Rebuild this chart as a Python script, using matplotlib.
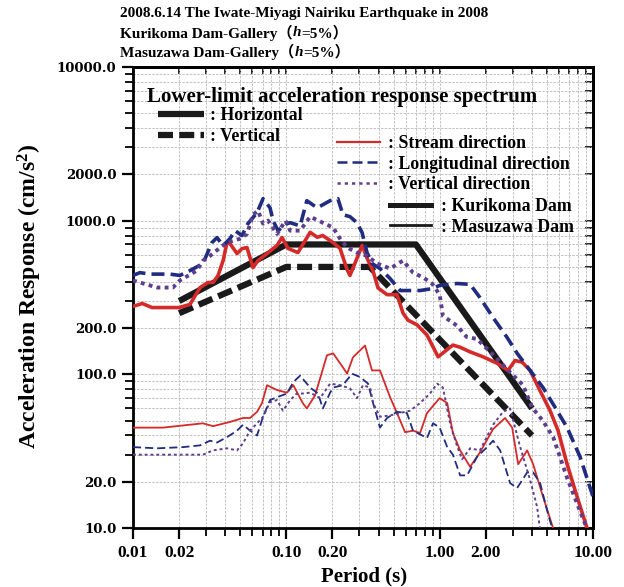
import numpy as np
import matplotlib
matplotlib.use("Agg")
import matplotlib.pyplot as plt
from matplotlib.lines import Line2D
from matplotlib.ticker import FixedLocator, LogLocator, NullFormatter, FuncFormatter

# ---------------- data ----------------
# Lower-limit acceleration response spectrum
lim_h_T = [0.02, 0.1, 0.7, 4.0]
lim_h_V = [300, 700, 700, 60]
lim_v_T = [0.02, 0.1, 0.35, 4.0]
lim_v_V = [250, 500, 500, 40]

# Kurikoma Dam (thick lines)
kur_st_T = [0.01, 0.0115, 0.0133, 0.02, 0.0235, 0.0274, 0.0308, 0.0333, 0.0359, 0.0387, 0.041,
            0.0429, 0.0477, 0.0514, 0.0554, 0.0606, 0.0654, 0.0748, 0.0869, 0.0938, 0.1026, 0.119,
            0.143, 0.159, 0.173, 0.202, 0.224, 0.249, 0.26, 0.289, 0.312, 0.336, 0.368, 0.396,
            0.454, 0.527, 0.577, 0.622, 0.712, 0.827, 0.977, 1.12, 1.22, 1.36, 1.58, 1.92, 2.37,
            2.79, 3.10, 3.45, 3.89, 4.52, 5.25, 5.92, 6.78, 7.87, 9.14]
kur_st_V = [277, 289, 272, 272, 285, 367, 396, 396, 440, 550, 719,
            709, 611, 658, 668, 495, 550, 611, 690, 776, 660, 620,
            840, 780, 800, 720, 660, 480, 440, 570, 690, 570, 470, 365,
            330, 330, 250, 225, 210, 180, 130, 145, 155, 150, 140, 130, 118,
            106, 123, 120, 106, 78, 58, 43, 26, 16, 10]

kur_lo_T = [0.01, 0.0111, 0.0129, 0.0174, 0.0202, 0.0235, 0.0286, 0.0327, 0.0353, 0.0387, 0.0429,
            0.0463, 0.0514, 0.0562, 0.0644, 0.0705, 0.0783, 0.0819, 0.0883, 0.101, 0.106, 0.123,
            0.136, 0.159, 0.193, 0.217, 0.234, 0.26, 0.289, 0.312, 0.336, 0.362, 0.408, 0.475,
            0.552, 0.641, 0.745, 0.891, 1.0, 1.30, 1.58, 1.83, 2.23, 2.75, 3.20, 3.89, 4.72,
            5.66, 6.78, 8.24, 10.0]
kur_lo_V = [440, 459, 449, 449, 440, 473, 526, 719, 776, 688, 764,
            861, 800, 957, 1127, 1390, 1212, 1000, 861, 957, 970, 925,
            1349, 1212, 1349, 1390, 1094, 1062, 970, 836, 620, 526, 488, 420,
            351, 351, 351, 361, 379, 390, 385, 316, 234, 174, 137, 106, 82,
            61, 45, 29, 16]

kur_ve_T = [0.01, 0.0144, 0.0182, 0.0202, 0.0261, 0.0286, 0.0318, 0.037, 0.041, 0.05, 0.0554,
            0.0606, 0.0654, 0.0705, 0.076, 0.0869, 0.0988, 0.106, 0.123, 0.143, 0.173, 0.202,
            0.224, 0.249, 0.289, 0.336, 0.391, 0.475, 0.577, 0.670, 0.780, 0.891, 1.0, 1.05,
            1.3, 1.5, 1.75, 2.3, 2.8, 3.5, 4.0, 4.7, 5.5, 6.8, 8.2, 9.1]
kur_ve_V = [408, 367, 367, 408, 473, 550, 590, 668, 719, 764, 820,
            1094, 1160, 957, 1000, 820, 1000, 861, 861, 1062, 970, 901,
            764, 668, 620, 590, 526, 488, 550, 459, 427, 390, 330, 240,
            207, 175, 170, 130, 106, 85, 61, 50, 39, 21, 13, 10]

# Masuzawa Dam (thin lines)
mas_st_T = [0.01, 0.0157, 0.0286, 0.0333, 0.0429, 0.0522, 0.058, 0.0644, 0.0694, 0.0748, 0.0869,
            0.101, 0.111, 0.128, 0.136, 0.154, 0.184, 0.202, 0.234, 0.249, 0.272, 0.326, 0.362,
            0.408, 0.475, 0.527, 0.595, 0.670, 0.745, 0.827, 1.0, 1.12, 1.22, 1.36, 1.58, 1.83,
            2.23, 2.67, 2.97, 3.25, 3.72, 4.07, 4.72, 5.49]
mas_st_V = [45, 45, 48, 46, 49, 52, 52, 57, 65, 85, 79,
            76, 85, 65, 60, 73, 133, 137, 111, 101, 129, 154, 106,
            106, 71, 56, 42, 43, 41.5, 56, 70, 65, 41.5, 32, 25, 31,
            44, 52, 45, 26, 32, 26, 16, 10]

mas_lo_T = [0.01, 0.0144, 0.0212, 0.0274, 0.0318, 0.0353, 0.041, 0.0477, 0.0522, 0.058, 0.0644,
            0.0705, 0.0783, 0.0869, 0.101, 0.111, 0.123, 0.143, 0.161, 0.173, 0.193, 0.202,
            0.234, 0.268, 0.303, 0.341, 0.368, 0.408, 0.454, 0.527, 0.612, 0.670, 0.827, 0.905,
            1.0, 1.12, 1.22, 1.36, 1.51, 1.75, 2.04, 2.23, 2.48, 2.88, 3.20, 3.72, 4.07, 4.52,
            5.02, 5.49]
mas_lo_V = [33.6, 33, 33.6, 34.5, 37, 36, 39, 43, 47, 43, 40,
            53, 68, 71, 75, 89, 98, 82, 75, 60, 76, 82,
            85, 101, 96, 87, 65, 45, 52, 57, 56, 43, 38.5, 48,
            45, 33.6, 30, 22, 22, 29, 33.6, 37, 32, 19.6, 18.2, 23, 23, 19.6,
            13, 9.5]

mas_ve_T = [0.01, 0.0157, 0.0286, 0.0333, 0.041, 0.0477, 0.0522, 0.058, 0.0644, 0.0705, 0.0783,
            0.0869, 0.095, 0.106, 0.117, 0.128, 0.143, 0.166, 0.193, 0.224, 0.26, 0.289, 0.316,
            0.352, 0.368, 0.408, 0.475, 0.552, 0.641, 0.745, 0.865, 0.962, 1.05, 1.17, 1.3, 1.4,
            1.58, 1.83, 2.23, 2.59, 2.88, 3.34, 3.89, 4.32, 4.52]
mas_ve_V = [30, 30, 30, 32, 33, 32, 35.6, 43, 48, 53, 66,
            68, 58, 68, 75, 75, 76, 70, 87, 85, 81, 70, 85,
            82, 65, 53, 54, 56, 58, 65, 75, 87, 82, 48, 34, 28,
            33, 32, 47, 57, 60, 34, 20.5, 13.7, 9.7]

x_ticks = [0.01, 0.02, 0.1, 0.2, 1.0, 2.0, 10.0]
y_ticks = [10, 20, 100, 200, 1000, 2000, 10000]

# title lines as (text, italic?) pieces
title_lines = [[("2008.6.14 The Iwate-Miyagi Nairiku Earthquake in 2008", False)],
               [("Kurikoma Dam-Gallery（", False), ("h", True), ("=5%）", False)],
               [("Masuzawa Dam-Gallery（", False), ("h", True), ("=5%）", False)]]

# ---------------- styling ----------------
plt.rcParams['mathtext.fontset'] = 'custom'
plt.rcParams['mathtext.it'] = 'Liberation Serif:italic:bold'
plt.rcParams['mathtext.rm'] = 'Liberation Serif:bold'
plt.rcParams['mathtext.bf'] = 'Liberation Serif:bold'
SERIF = ['Liberation Serif', 'Noto Sans CJK JP', 'DejaVu Serif']

RED = '#d42a2a'
BLUE = '#1f2c80'
PURPLE = '#5e3f8e'
BLACK = '#1a1a1a'

fig = plt.figure(figsize=(6.24, 5.87), dpi=100)
ax = fig.add_axes([133 / 624, 1 - 528 / 587, (593 - 133) / 624, (528 - 67) / 587])
ax.set_xscale('log')
ax.set_yscale('log')
ax.set_xlim(0.01, 10)
ax.set_ylim(10, 10000)

ax.xaxis.set_major_locator(FixedLocator(x_ticks))
ax.xaxis.set_minor_locator(LogLocator(base=10, subs=np.arange(1, 10)))
ax.yaxis.set_major_locator(FixedLocator(y_ticks))
ax.yaxis.set_minor_locator(LogLocator(base=10, subs=np.arange(1, 10)))
ax.xaxis.set_major_formatter(FuncFormatter(lambda v, p: f"{v:.2f}"))
ax.yaxis.set_major_formatter(FuncFormatter(lambda v, p: f"{v:.1f}"))
ax.xaxis.set_minor_formatter(NullFormatter())
ax.yaxis.set_minor_formatter(NullFormatter())

ax.grid(True, which='both', color='#b8b8b8', lw=0.6, ls=(0, (3, 1.5)), zorder=0)
ax.set_axisbelow(True)

ax.tick_params(which='major', direction='out', length=8, width=1.6, top=False, right=False,
               pad=4)
ax.tick_params(which='minor', direction='out', length=5.5, width=1.3, top=False, right=False)
for lab in ax.get_xticklabels():
    lab.set_fontfamily(SERIF)
    lab.set_fontweight('bold')
    lab.set_fontsize(12.5)
for lab in ax.get_yticklabels():
    lab.set_fontfamily(['DejaVu Serif'])
    lab.set_fontweight('bold')
    lab.set_fontsize(9.5)
for s in ax.spines.values():
    s.set_linewidth(2.0)

# inward ticks on top and right
secx = ax.secondary_xaxis('top')
secx.xaxis.set_major_locator(FixedLocator(x_ticks))
secx.xaxis.set_minor_locator(LogLocator(base=10, subs=np.arange(1, 10)))
secx.xaxis.set_major_formatter(NullFormatter())
secx.xaxis.set_minor_formatter(NullFormatter())
secx.tick_params(which='both', direction='in', length=5, width=1.2)
secx.spines['top'].set_linewidth(2.0)
secy = ax.secondary_yaxis('right')
secy.yaxis.set_major_locator(FixedLocator(y_ticks))
secy.yaxis.set_minor_locator(LogLocator(base=10, subs=np.arange(1, 10)))
secy.yaxis.set_major_formatter(NullFormatter())
secy.yaxis.set_minor_formatter(NullFormatter())
secy.tick_params(which='both', direction='in', length=6, width=1.2)
secy.spines['right'].set_linewidth(2.0)

# ---------------- lines ----------------
ax.plot(lim_h_T, lim_h_V, color=BLACK, lw=4.5, solid_capstyle='butt', zorder=3)
ax.plot(lim_v_T, lim_v_V, color=BLACK, lw=4.5, ls=(0, (2.4, 1.0)), dash_capstyle='butt', zorder=3)

ax.plot(kur_st_T, kur_st_V, color=RED, lw=2.6, zorder=4)
ax.plot(kur_lo_T, kur_lo_V, color=BLUE, lw=2.6, ls=(0, (3.6, 1.7)), zorder=4)
ax.plot(kur_ve_T, kur_ve_V, color=PURPLE, lw=2.8, ls=(0, (1.0, 1.1)), zorder=4)

ax.plot(mas_st_T, mas_st_V, color=RED, lw=1.3, zorder=4)
ax.plot(mas_lo_T, mas_lo_V, color=BLUE, lw=1.3, ls=(0, (4.5, 2.2)), zorder=4)
ax.plot(mas_ve_T, mas_ve_V, color=PURPLE, lw=1.4, ls=(0, (1.5, 1.5)), zorder=4)

# ---------------- legends ----------------
lfont = {'family': SERIF, 'weight': 'bold', 'size': 12.8}

fig.text(147 / 624, 1 - 97 / 587, "Lower-limit acceleration response spectrum",
         fontfamily=SERIF, fontweight='bold', fontsize=15, ha='left', va='center')

h1 = [Line2D([], [], color=BLACK, lw=4.5, solid_capstyle='butt'),
      Line2D([], [], color=BLACK, lw=4.5, ls=(0, (2.4, 1.0)), dash_capstyle='butt')]
leg1 = ax.legend(h1, [": Horizontal", ": Vertical"], prop=lfont, frameon=False,
                 loc='upper left', bbox_to_anchor=(158 / 624, 1 - 107 / 587),
                 bbox_transform=fig.transFigure, borderpad=0, borderaxespad=0,
                 handlelength=2.6, handletextpad=0.3, labelspacing=0.22)
ax.add_artist(leg1)

h2 = [Line2D([], [], color=RED, lw=1.6),
      Line2D([], [], color=BLUE, lw=1.8, ls=(0, (4.0, 2.0))),
      Line2D([], [], color=PURPLE, lw=1.8, ls=(0, (1.3, 1.6)))]
leg2 = ax.legend(h2, [": Stream direction", ": Longitudinal direction", ": Vertical direction"],
                 prop=lfont, frameon=False, loc='upper left',
                 bbox_to_anchor=(337 / 624, 1 - 135 / 587), bbox_transform=fig.transFigure,
                 borderpad=0, borderaxespad=0, handlelength=2.4, handletextpad=0.45,
                 labelspacing=0.2)
ax.add_artist(leg2)

h3 = [Line2D([], [], color=BLACK, lw=3.6), Line2D([], [], color=BLACK, lw=2.0)]
leg3 = ax.legend(h3, [": Kurikoma Dam", ": Masuzawa Dam"], prop=lfont, frameon=False,
                 loc='upper left', bbox_to_anchor=(390 / 624, 1 - 198 / 587),
                 bbox_transform=fig.transFigure, borderpad=0, borderaxespad=0,
                 handlelength=2.3, handletextpad=0.55, labelspacing=0.2)

# ---------------- titles / labels ----------------
renderer = fig.canvas.get_renderer()
for i, pieces in enumerate(title_lines):
    x = 120 / 624
    y = 1 - (14 + 19 * i) / 587
    for txt, ital in pieces:
        t = fig.text(x, y, txt, fontfamily=SERIF, fontweight='bold',
                     fontstyle='italic' if ital else 'normal',
                     fontsize=11, ha='left', va='center')
        bb = t.get_window_extent(renderer)
        x += bb.width / fig.bbox.width

fig.text(364 / 624, 1 - 576 / 587, "Period (s)", fontfamily=SERIF, fontweight='bold',
         fontsize=15, ha='center', va='center')
fig.text(30 / 624, 1 - 296 / 587, "Acceleration Response (cm/s$^2$)", fontfamily=SERIF,
         fontweight='bold', fontsize=17, ha='center', va='center', rotation=90)

fig.savefig("out.png", dpi=100)
